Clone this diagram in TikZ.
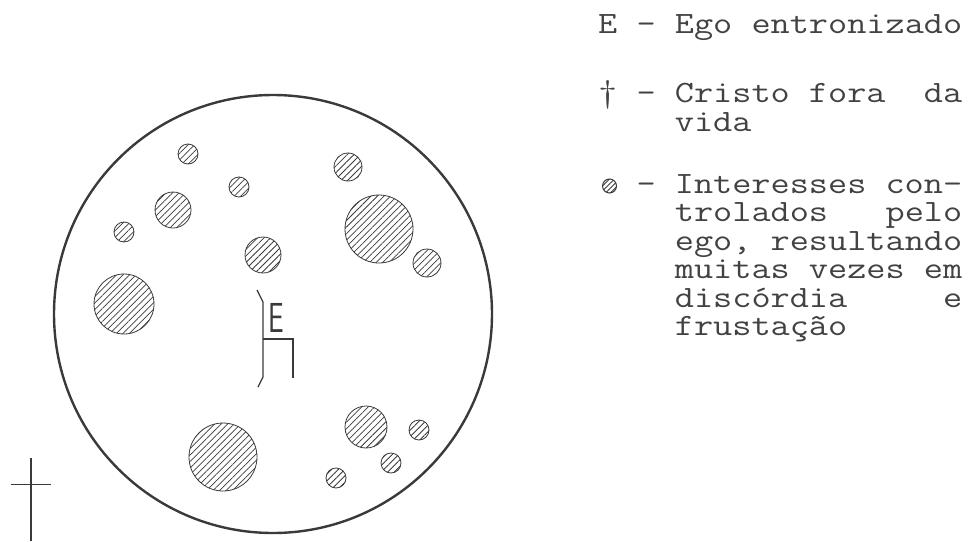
\documentclass[tikz,border=0pt]{standalone}
\usepackage{fontspec}
\usetikzlibrary{patterns.meta}
\definecolor{ink}{HTML}{3A3A3A}
\definecolor{txt}{HTML}{424242}
\tikzset{
  rim/.style={draw=ink, line width=2.4pt},
  hatchdisc/.style={draw=ink, line width=0.8pt,
    pattern={Lines[angle=45,distance=4.6pt,line width=0.75pt]}, pattern color=ink},
  mark line/.style={draw=ink, line width=1.2pt},
  legend/.style={anchor=base west, inner sep=0pt, text=txt, xscale=1.2,
    align=left, font=\ttfamily\fontsize{31}{28.5}\selectfont},
  letterE/.style={anchor=base west, inner sep=0pt, text=ink,
    font=\sffamily\fontsize{42}{42}\selectfont, xscale=0.66}
}
\newcommand{\hdisc}[3]{\draw[hatchdisc] (#1,#2) circle[radius=#3pt];}
\begin{document}
\begin{tikzpicture}[x=1pt,y=-1pt]
\useasboundingbox (0,0) rectangle (974,541);
% big circle
\draw[rim] (273,314) circle[radius=219pt];
% interests
\hdisc{188}{154}{10}
\hdisc{239}{187}{10}
\hdisc{173}{210}{18}
\hdisc{124}{232}{10}
\hdisc{263}{255}{18}
\hdisc{124}{304}{30}
\hdisc{348}{167}{14}
\hdisc{379}{229}{34}
\hdisc{427}{263}{14}
\hdisc{223}{457}{34}
\hdisc{366}{427}{21}
\hdisc{419}{430}{10}
\hdisc{391}{463}{10}
\hdisc{336}{478}{10}
% enthroned ego
\coordinate (b1) at (257,290);
\coordinate (b2) at (263,302);
\coordinate (b3) at (263,377);
\coordinate (b4) at (258,387);
\draw[mark line] (b1) -- (b2) -- (b3) -- (b4);
\node[letterE] (E) at (268,332) {E};
\coordinate (s1) at (263,339);
\coordinate (s2) at (293,339);
\coordinate (s3) at (293,378);
\draw[mark line] (s1) -- (s2) -- (s3);
% cross outside
\coordinate (c1) at (31,458);
\coordinate (c2) at (31,541);
\coordinate (c3) at (11,484);
\coordinate (c4) at (51,484);
\draw[mark line] (c1) -- (c2);
\draw[mark line, line width=0.9pt] (c3) -- (c4);
% legend (anchor = baseline of the last line)
\node[legend] (l1) at (598,33) {E - Ego entronizado};
\node[legend] (l2) at (598,131) {† - Cristo fora\ \ da\\\ \ \ \ vida};
\node[legend] (l4) at (598,335.5) {\ \ - Interesses con-\\
\ \ \ \ trolados\ \ \ pelo\\
\ \ \ \ ego, resultando\\
\ \ \ \ muitas vezes em\\
\ \ \ \ discórdia\ \ \ \ \ e\\
\ \ \ \ frustação};
\draw[draw=ink, line width=1pt, pattern={Lines[angle=45,distance=3.5pt,line width=0.9pt]}, pattern color=ink] (609.5,186) circle[radius=7pt];
\end{tikzpicture}
\end{document}
